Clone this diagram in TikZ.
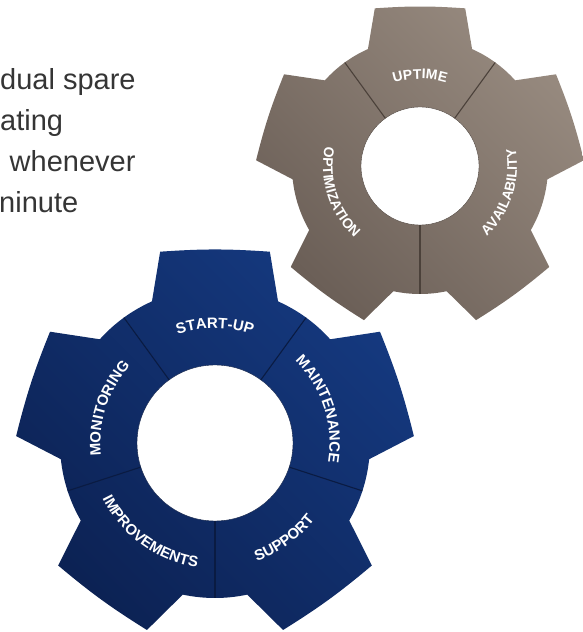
\documentclass[tikz,border=0pt]{standalone}
\usepackage{fontspec}
\setmainfont{Liberation Sans}
\setsansfont{Liberation Sans}
\usetikzlibrary{decorations.text}

\definecolor{bluelight}{HTML}{15397F}
\definecolor{bluedark}{HTML}{0C2254}
\definecolor{blueline}{HTML}{0A1B42}
\definecolor{brownlight}{HTML}{978A7F}
\definecolor{browndark}{HTML}{6B5F57}
\definecolor{brownline}{HTML}{4B413A}
\definecolor{copytext}{HTML}{353535}

\newcommand{\bluefont}{\sffamily\bfseries\fontsize{15}{15}\selectfont\color{white}}
\newcommand{\brownfont}{\sffamily\bfseries\fontsize{14}{14}\selectfont\color{white}}

\begin{document}
\begin{tikzpicture}
	[x=1pt, y=1pt,
	divider/.style={line width=1.1pt},
	geartext/.style={decorate, decoration={text along path, text align=center, text={#1}}},
	copy/.style={anchor=base west, inner sep=0pt, text=copytext, font=\fontsize{29}{29}\selectfont}]

	\useasboundingbox (0,0) rectangle (583,632);

	% Text cut off at the left edge
	\node[copy] (LINE1) at (0,542) {dual spare};
	\node[copy] (LINE2) at (0,501) {ating};
	\node[copy] (LINE3) at (9.5,460) {whenever};
	\node[copy] (LINE4) at (-1,419) {ninute};

	% Brown gear
	\coordinate (BROWN) at (420,466);
	\begin{scope}[shift={(BROWN)}]
		\shade[top color=brownlight, bottom color=browndark, shading angle=-45]
			(66:128) \foreach \a in {90,162,234,306,378}
			{ -- (\a-16:164) to[bend right=4] (\a+16:164) -- (\a+24:128)
			  arc[start angle=\a+24, end angle=\a+48, radius=128] } -- cycle;
		\filldraw[fill=white, draw=brownline, thin] (0,0) circle[radius=59];
		\foreach \a in {54,126,270}
			\draw[divider, brownline] (\a:59) -- (\a:128);
	\end{scope}

	\path[geartext={|\brownfont|UPTIME}] (BROWN) ++(135:87) arc[start angle=135, end angle=45, radius=87];
	\path[geartext={|\brownfont|AVAILABILITY}] (BROWN) ++(-73:97) arc[start angle=-73, end angle=37, radius=97];
	\path[geartext={|\brownfont|OPTIMIZATION}] (BROWN) ++(143:97) arc[start angle=143, end angle=253, radius=97];

	% Blue gear
	\coordinate (BLUE) at (215,189);
	\begin{scope}[shift={(BLUE)}]
		\shade[top color=bluelight, bottom color=bluedark, shading angle=-45]
			(66:155) \foreach \a in {90,162,234,306,378}
			{ -- (\a-16:199) to[bend right=4] (\a+16:199) -- (\a+24:155)
			  arc[start angle=\a+24, end angle=\a+48, radius=155] } -- cycle;
		\filldraw[fill=white, draw=blueline, thin] (0,0) circle[radius=78];
		\foreach \a in {54,126,198,270,342}
			\draw[divider, blueline] (\a:78) -- (\a:155);
	\end{scope}

	\path[geartext={|\bluefont|START-UP}] (BLUE) ++(135:114.6) arc[start angle=135, end angle=45, radius=114.6];
	\path[geartext={|\bluefont|MAINTENANCE}] (BLUE) ++(68:114.6) arc[start angle=68, end angle=-32, radius=114.6];
	\path[geartext={|\bluefont|MONITORING}] (BLUE) ++(212:114.6) arc[start angle=212, end angle=112, radius=114.6];
	\path[geartext={|\bluefont|SUPPORT}] (BLUE) ++(261:125.4) arc[start angle=261, end angle=351, radius=125.4];
	\path[geartext={|\bluefont|IMPROVEMENTS}] (BLUE) ++(184:125.4) arc[start angle=184, end angle=284, radius=125.4];

\end{tikzpicture}
\end{document}
